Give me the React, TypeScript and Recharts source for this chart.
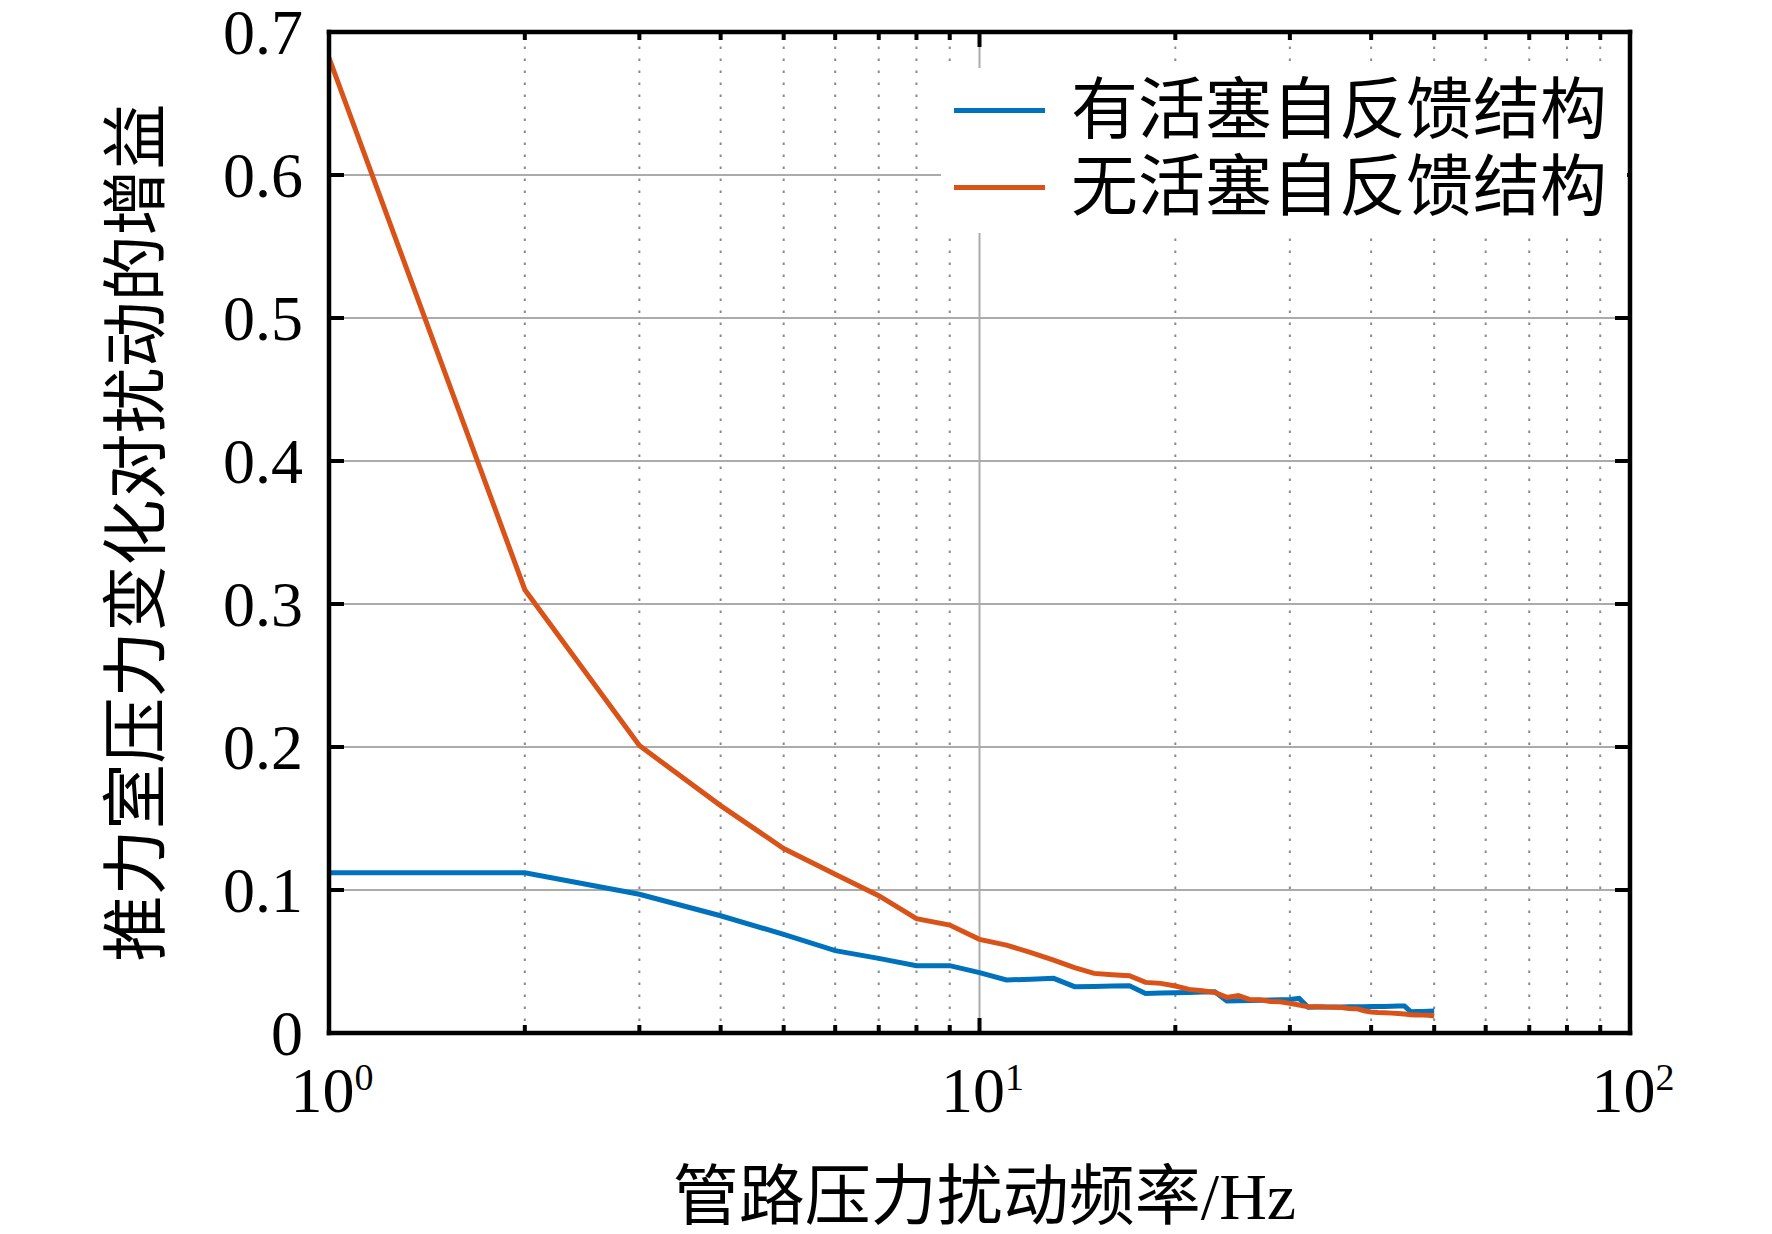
import React from 'react'
import { LineChart, Line, XAxis, YAxis, CartesianGrid, ReferenceLine, Legend } from 'recharts'

// disturbance frequency (Hz), one sample per integer
const FREQ = [
  1, 2, 3, 4, 5, 6, 7, 8, 9, 10,
  11, 12, 13, 14, 15, 16, 17, 18, 19, 20,
  21, 22, 23, 24, 25, 26, 27, 28, 29, 30,
  31, 32, 33, 34, 35, 36, 37, 38, 39, 40,
  41, 42, 43, 44, 45, 46, 47, 48, 49, 50,
]

// 有活塞自反馈结构
const WITH_PISTON = [
  0.112, 0.112, 0.097, 0.082, 0.069, 0.0576, 0.0522, 0.0471, 0.0471, 0.0422,
  0.0371, 0.0376, 0.0382, 0.0324, 0.0326, 0.0328, 0.0331, 0.0277, 0.0279, 0.0281,
  0.0283, 0.0286, 0.0289, 0.0224, 0.0226, 0.0228, 0.0229, 0.0231, 0.0233, 0.0235,
  0.0242, 0.018, 0.0181, 0.0181, 0.0182, 0.0182, 0.0183, 0.0183, 0.0184, 0.0185,
  0.0185, 0.0186, 0.0187, 0.0188, 0.0189, 0.0149, 0.015, 0.0151, 0.0152, 0.0153,
]

// 无活塞自反馈结构
const WITHOUT_PISTON = [
  0.682, 0.31, 0.201, 0.159, 0.129, 0.111, 0.096, 0.08, 0.0755, 0.0655,
  0.0615, 0.0562, 0.051, 0.0457, 0.0417, 0.0408, 0.0401, 0.0354, 0.0347, 0.0329,
  0.0305, 0.0296, 0.0284, 0.0249, 0.0261, 0.0235, 0.0233, 0.0221, 0.0219, 0.0207,
  0.0196, 0.0184, 0.0184, 0.0181, 0.018, 0.0179, 0.0172, 0.017, 0.0156, 0.0147,
  0.0143, 0.0141, 0.0139, 0.0137, 0.0133, 0.0127, 0.0126, 0.0125, 0.0124, 0.0119,
]

const SERIES_NAMES = ['有活塞自反馈结构', '无活塞自反馈结构']
const SERIES_COLORS = ['#0072BD', '#D95319']

const X_MAJOR = [1, 10, 100]
const X_MINOR = [2, 3, 4, 5, 6, 7, 8, 9, 20, 30, 40, 50, 60, 70, 80, 90]
const X_TICKS = [1, 2, 3, 4, 5, 6, 7, 8, 9, 10, 20, 30, 40, 50, 60, 70, 80, 90, 100]
const Y_TICKS = [0, 0.1, 0.2, 0.3, 0.4, 0.5, 0.6, 0.7]

const X_LABEL = '管路压力扰动频率/Hz'
const Y_LABEL = '推力室压力变化对扰动的增益'

const FONT = "'Liberation Serif', 'Noto Sans CJK SC', serif"
const MAJOR_LEN = 15
const MINOR_LEN = 8

const data = FREQ.map((f, i) => ({ f, withP: WITH_PISTON[i], withoutP: WITHOUT_PISTON[i] }))

const BottomTick = (props: any) => {
  const { x, y, payload } = props
  const v = payload.value
  const major = X_MAJOR.includes(v)
  const exp = Math.round(Math.log10(v))
  return (
    <g>
      <line x1={x} x2={x} y1={y} y2={y - (major ? MAJOR_LEN : MINOR_LEN)} stroke="#000" strokeWidth={4} />
      {major && (
        <text x={x + 3} y={y + 79} textAnchor="middle" fontFamily={FONT} fontSize={64} fill="#000">
          10<tspan fontSize={38} dy={-22}>{exp}</tspan>
        </text>
      )}
    </g>
  )
}

const TopTick = (props: any) => {
  const { x, y, payload } = props
  const major = X_MAJOR.includes(payload.value)
  return <line x1={x} x2={x} y1={y} y2={y + (major ? MAJOR_LEN : MINOR_LEN)} stroke="#000" strokeWidth={4} />
}

const LeftTick = (props: any) => {
  const { x, y, payload } = props
  return (
    <g>
      <line x1={x} x2={x + MAJOR_LEN} y1={y} y2={y} stroke="#000" strokeWidth={4} />
      <text x={x - 26} y={y + 22} textAnchor="end" fontFamily={FONT} fontSize={64} fill="#000">
        {payload.value === 0 ? '0' : payload.value.toFixed(1)}
      </text>
    </g>
  )
}

const RightTick = (props: any) => {
  const { x, y } = props
  return <line x1={x} x2={x - MAJOR_LEN} y1={y} y2={y} stroke="#000" strokeWidth={4} />
}

const XTitle = ({ viewBox }: any) => {
  const cx = viewBox.x + viewBox.width / 2 + 5
  const cy = viewBox.y + 163
  return (
    <text x={cx} y={cy} textAnchor="middle" dominantBaseline="central" fontFamily={FONT} fontSize={66} fill="#000">
      {X_LABEL}
    </text>
  )
}

const YTitle = ({ viewBox }: any) => {
  const cx = viewBox.x + 136
  const cy = viewBox.y + viewBox.height / 2
  return (
    <text
      x={cx}
      y={cy}
      transform={`rotate(-90 ${cx} ${cy})`}
      textAnchor="middle"
      dominantBaseline="central"
      fontFamily={FONT}
      fontSize={66}
      fill="#000"
    >
      {Y_LABEL}
    </text>
  )
}

const LegendBox = (props: any) => {
  const items = [...(props.payload || [])].sort(
    (a: any, b: any) => SERIES_NAMES.indexOf(a.value) - SERIES_NAMES.indexOf(b.value)
  )
  return (
    <div style={{ width: '100%', height: '100%', background: '#fff', paddingTop: 4, boxSizing: 'border-box' }}>
      {items.map((it: any) => (
        <div key={it.value} style={{ display: 'flex', alignItems: 'center', height: 77, whiteSpace: 'nowrap' }}>
          <div style={{ flex: 'none', width: 91, height: 5, marginLeft: 13, marginRight: 26, background: it.color }} />
          <span style={{ flex: 'none', fontFamily: FONT, fontSize: 67, lineHeight: '77px', color: '#000' }}>
            {it.value}
          </span>
        </div>
      ))}
    </div>
  )
}

export default function App() {
  return (
    <div style={{ position: 'absolute', left: 0, top: 0, width: 1772, height: 1234, background: '#fff' }}>
      <LineChart width={1772} height={1234} data={data} margin={{ top: 0, right: 0, bottom: 0, left: 0 }}>
        <CartesianGrid xAxisId="b" yAxisId="l" vertical={false} stroke="#ababab" strokeWidth={2} />
        {X_MINOR.map((v) => (
          <ReferenceLine
            key={v}
            x={v}
            xAxisId="b"
            yAxisId="l"
            stroke="#8a8a8a"
            strokeWidth={2}
            strokeDasharray="2.5 9.5"
          />
        ))}
        <ReferenceLine x={10} xAxisId="b" yAxisId="l" stroke="#ababab" strokeWidth={2} />
        <XAxis
          xAxisId="b"
          dataKey="f"
          type="number"
          scale="log"
          domain={[1, 100]}
          ticks={X_TICKS}
          interval={0}
          allowDataOverflow
          height={201}
          tickSize={0}
          tickMargin={0}
          tickLine={false}
          tick={<BottomTick />}
          axisLine={{ stroke: '#000', strokeWidth: 4.5, strokeLinecap: 'square' }}
          label={<XTitle />}
        />
        <XAxis
          xAxisId="t"
          orientation="top"
          dataKey="f"
          type="number"
          scale="log"
          domain={[1, 100]}
          ticks={X_TICKS}
          interval={0}
          allowDataOverflow
          height={32}
          tickSize={0}
          tickMargin={0}
          tickLine={false}
          tick={<TopTick />}
          axisLine={{ stroke: '#000', strokeWidth: 4.5, strokeLinecap: 'square' }}
        />
        <YAxis
          yAxisId="l"
          type="number"
          domain={[0, 0.7]}
          ticks={Y_TICKS}
          interval={0}
          allowDataOverflow
          width={329}
          tickSize={0}
          tickMargin={0}
          tickLine={false}
          tick={<LeftTick />}
          axisLine={{ stroke: '#000', strokeWidth: 4.5, strokeLinecap: 'square' }}
          label={<YTitle />}
        />
        <YAxis
          yAxisId="r"
          orientation="right"
          type="number"
          domain={[0, 0.7]}
          ticks={Y_TICKS}
          interval={0}
          allowDataOverflow
          width={142}
          tickSize={0}
          tickMargin={0}
          tickLine={false}
          tick={<RightTick />}
          axisLine={{ stroke: '#000', strokeWidth: 4.5, strokeLinecap: 'square' }}
        />
        <Line
          xAxisId="b"
          yAxisId="l"
          dataKey="withP"
          name={SERIES_NAMES[0]}
          stroke={SERIES_COLORS[0]}
          strokeWidth={5}
          dot={false}
          type="linear"
          isAnimationActive={false}
        />
        <Line
          xAxisId="b"
          yAxisId="l"
          dataKey="withoutP"
          name={SERIES_NAMES[1]}
          stroke={SERIES_COLORS[1]}
          strokeWidth={5}
          dot={false}
          type="linear"
          isAnimationActive={false}
        />
        <Legend
          layout="horizontal"
          verticalAlign="middle"
          align="center"
          content={<LegendBox />}
          wrapperStyle={{ position: 'absolute', left: 941, top: 68, width: 686, height: 165, margin: 0 }}
        />
      </LineChart>
    </div>
  )
}
